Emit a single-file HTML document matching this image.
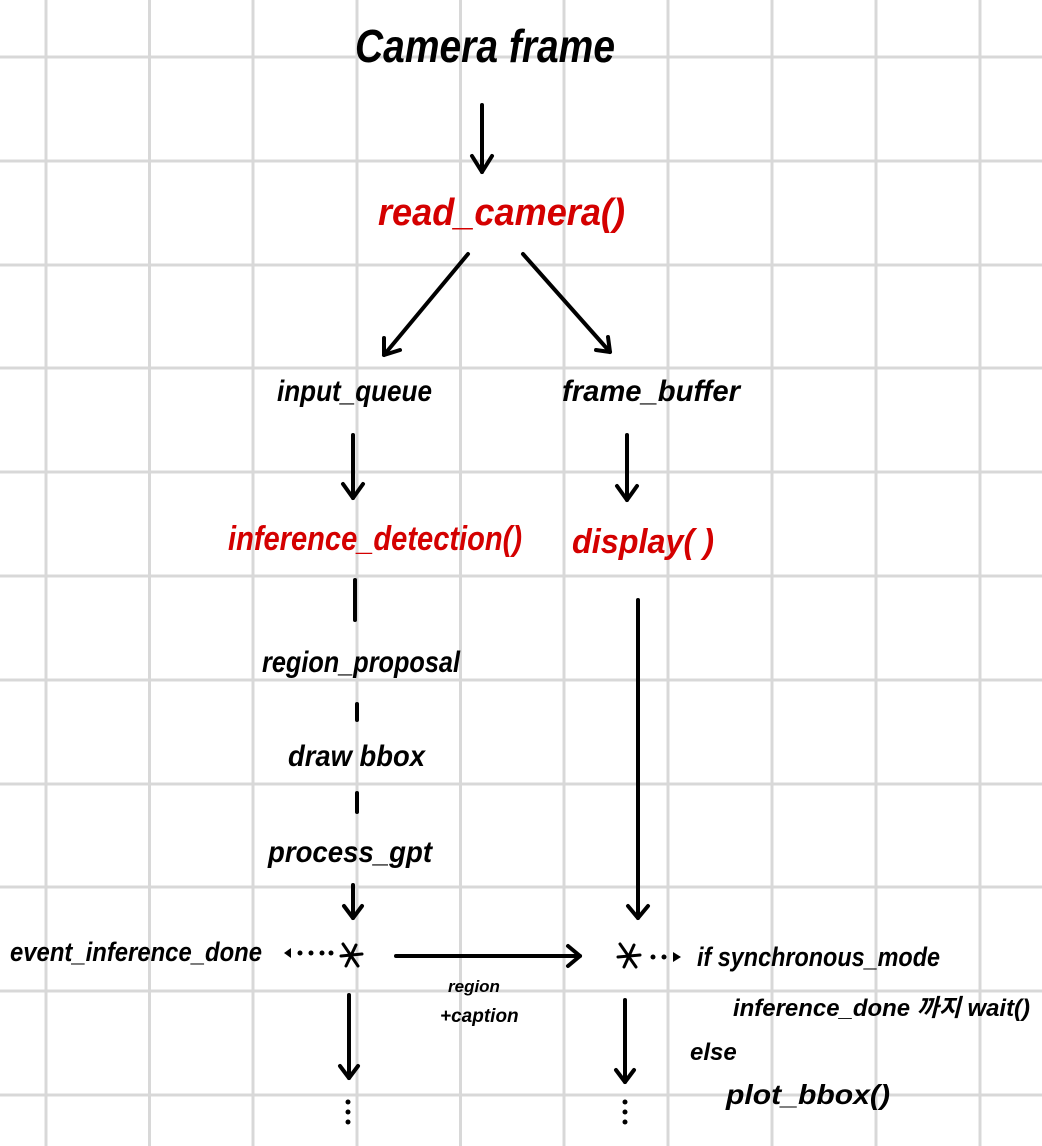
<!DOCTYPE html>
<html><head><meta charset="utf-8"><style>
html,body{margin:0;padding:0;background:#fff}
svg{display:block}
text{font-family:"Liberation Sans","Noto Sans CJK KR",sans-serif;font-style:italic;font-weight:600}
</style></head><body>
<svg width="1042" height="1146" viewBox="0 0 1042 1146" xmlns="http://www.w3.org/2000/svg">
<g stroke="#d8d8d8" stroke-width="3">
<line x1="46" y1="0" x2="46" y2="1146"/><line x1="149.5" y1="0" x2="149.5" y2="1146"/><line x1="253" y1="0" x2="253" y2="1146"/><line x1="357" y1="0" x2="357" y2="1146"/><line x1="460.5" y1="0" x2="460.5" y2="1146"/><line x1="564" y1="0" x2="564" y2="1146"/><line x1="668" y1="0" x2="668" y2="1146"/><line x1="772" y1="0" x2="772" y2="1146"/><line x1="876" y1="0" x2="876" y2="1146"/><line x1="980" y1="0" x2="980" y2="1146"/>
<line x1="0" y1="57" x2="1042" y2="57"/><line x1="0" y1="161" x2="1042" y2="161"/><line x1="0" y1="265" x2="1042" y2="265"/><line x1="0" y1="368" x2="1042" y2="368"/><line x1="0" y1="472" x2="1042" y2="472"/><line x1="0" y1="576" x2="1042" y2="576"/><line x1="0" y1="680" x2="1042" y2="680"/><line x1="0" y1="784" x2="1042" y2="784"/><line x1="0" y1="887" x2="1042" y2="887"/><line x1="0" y1="991" x2="1042" y2="991"/><line x1="0" y1="1095" x2="1042" y2="1095"/>
</g>
<g stroke="#000" stroke-width="4" fill="none" stroke-linecap="round" stroke-linejoin="round">
<line x1="482" y1="105" x2="482" y2="172"/><polyline points="472,156 482,172 492,156"/>
<line x1="468" y1="254" x2="384" y2="355"/><polyline points="384,338 384,355 400,350"/>
<line x1="523" y1="254" x2="610" y2="352"/><polyline points="596,350 610,352 608,337"/>
<line x1="353" y1="435" x2="353" y2="498"/><polyline points="343,484 353,498 363,484"/>
<line x1="627" y1="435" x2="627" y2="500"/><polyline points="617,486 627,500 637,486"/>
<line x1="355" y1="580" x2="355" y2="620"/>
<line x1="357" y1="704" x2="357" y2="720"/>
<line x1="357" y1="793" x2="357" y2="812"/>
<line x1="353" y1="885" x2="353" y2="918"/><polyline points="344,906 353,918 362,906"/>
<line x1="638" y1="600" x2="638" y2="918"/><polyline points="628,906 638,918 648,906"/>
<line x1="396" y1="956" x2="580" y2="956"/><polyline points="568,946 580,956 568,966"/>
<line x1="349" y1="995" x2="349" y2="1078"/><polyline points="340,1066 349,1078 358,1066"/>
<line x1="625" y1="1000" x2="625" y2="1082"/><polyline points="616,1070 625,1082 634,1070"/>
<path d="M343 944 L358 966 M356 945 L346 966 M341 956 L362 954" stroke-width="3"/>
<path d="M620 944 L636 967 M634 945 L624 967 M618 957 L640 955" stroke-width="3"/>
</g>
<g fill="#000">
<circle cx="348" cy="1102" r="2.5"/><circle cx="348" cy="1112" r="2.5"/><circle cx="348" cy="1122" r="2.5"/>
<circle cx="625" cy="1102" r="2.5"/><circle cx="625" cy="1112" r="2.5"/><circle cx="625" cy="1122" r="2.5"/>
<circle cx="300" cy="953" r="2.5"/><circle cx="311" cy="953" r="2.5"/><circle cx="322" cy="953" r="2.5"/><circle cx="331" cy="953" r="2.5"/>
<circle cx="653" cy="957" r="2.5"/><circle cx="664" cy="957" r="2.5"/><path d="M673 952 L681 957 L673 962Z"/>
<path d="M284 953 L291 948 L291 958Z"/>
</g>
<g fill="#000" font-size="30">
<text x="355" y="62" font-size="46" textLength="260" lengthAdjust="spacingAndGlyphs">Camera frame</text>
<text x="277" y="401" textLength="155" lengthAdjust="spacingAndGlyphs">input_queue</text>
<text x="562" y="401" textLength="178" lengthAdjust="spacingAndGlyphs">frame_buffer</text>
<text x="262" y="672" textLength="198" lengthAdjust="spacingAndGlyphs">region_proposal</text>
<text x="288" y="766" textLength="137" lengthAdjust="spacingAndGlyphs">draw bbox</text>
<text x="268" y="862" textLength="164" lengthAdjust="spacingAndGlyphs">process_gpt</text>
<text x="10" y="961" font-size="27" textLength="252" lengthAdjust="spacingAndGlyphs">event_inference_done</text>
<text x="697" y="966" font-size="27" textLength="243" lengthAdjust="spacingAndGlyphs">if synchronous_mode</text>
<text x="733" y="1016" font-size="24" textLength="297" lengthAdjust="spacingAndGlyphs">inference_done 까지 wait()</text>
<text x="690" y="1060" font-size="24">else</text>
<text x="726" y="1104" font-size="28" textLength="164" lengthAdjust="spacingAndGlyphs">plot_bbox()</text>
<text x="448" y="992" font-size="17">region</text>
<text x="440" y="1022" font-size="19">+caption</text>
</g>
<g fill="#d40000" font-size="34">
<text x="378" y="225" font-size="38" textLength="247" lengthAdjust="spacingAndGlyphs">read_camera()</text>
<text x="228" y="550" textLength="294" lengthAdjust="spacingAndGlyphs">inference_detection()</text>
<text x="572" y="553" textLength="142" lengthAdjust="spacingAndGlyphs">display( )</text>
</g>
</svg>
</body></html>
